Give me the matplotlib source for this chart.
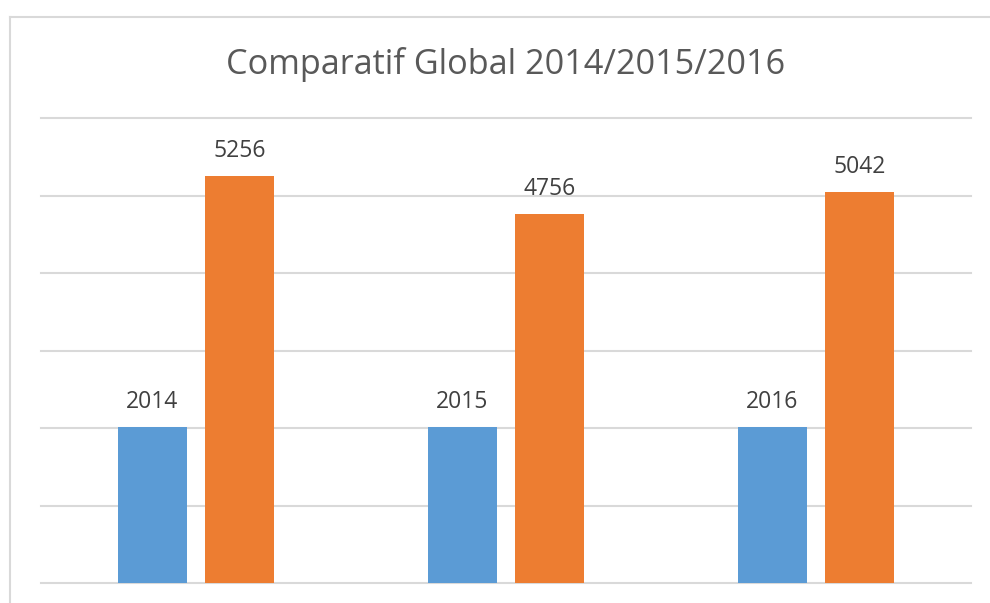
import numpy as np
import matplotlib.pyplot as plt
from matplotlib.lines import Line2D

annees = ["2014", "2015", "2016"]
serie_annee = [2014, 2015, 2016]
serie_total = [5256, 4756, 5042]

fig = plt.figure(figsize=(9.9, 6.03), dpi=100)
ax = fig.add_axes([41/990, 20/603, 930/990, 465/603])

x = np.arange(len(annees))
decal = 0.141
larg = 0.222

b1 = ax.bar(x - decal, serie_annee, larg, color="#5B9BD5", zorder=3)
b2 = ax.bar(x + decal, serie_total, larg, color="#ED7D31", zorder=3)

for barres, vals in [(b1, serie_annee), (b2, serie_total)]:
    for r, v in zip(barres, vals):
        ax.annotate(str(v), (r.get_x() + r.get_width()/2, v), xytext=(0, 18),
                    textcoords="offset points", ha="center", va="center",
                    fontsize=16.5, color="#404040", family="Open Sans")

ax.set_xlim(-0.5, 2.5)
ax.set_ylim(0, 6000)
ax.set_yticks(np.arange(0, 7000, 1000))
ax.set_xticks([])
ax.tick_params(axis="y", length=0, labelleft=False)
for s in ax.spines.values():
    s.set_visible(False)
ax.grid(axis="y", color="#D9D9D9", linewidth=1.5, zorder=0)
for gl in ax.get_ygridlines():
    gl.set_clip_on(False)

fig.text(506/990, 1 - 64/603, "Comparatif Global 2014/2015/2016", ha="center",
         va="center", fontsize=24.7, color="#595959", family="Open Sans")

# cadre du graphique
fig.add_artist(Line2D([10/990, 1], [1 - 17/603, 1 - 17/603], color="#D9D9D9", linewidth=1.5))
fig.add_artist(Line2D([10/990, 10/990], [0, 1 - 17/603], color="#D9D9D9", linewidth=1.5))

fig.savefig("out.png", dpi=100)
